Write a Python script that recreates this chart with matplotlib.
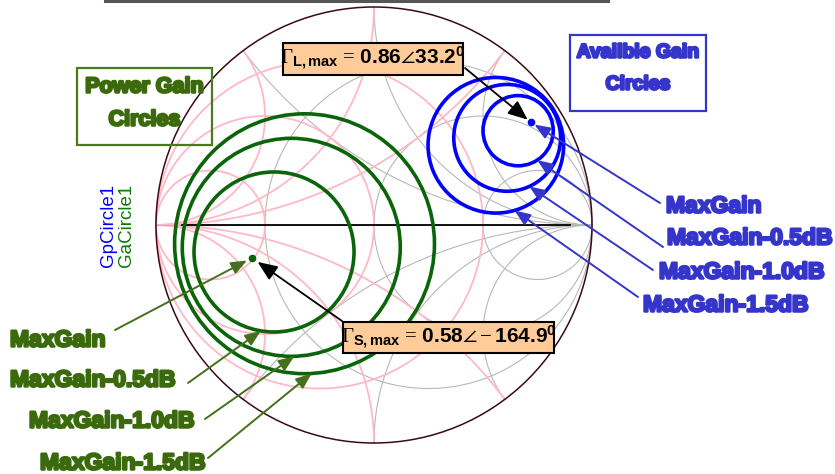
import numpy as np
import matplotlib
matplotlib.use('Agg')
import matplotlib.pyplot as plt
import matplotlib.patheffects as pe
from matplotlib.patches import Rectangle, Circle

plt.rcParams['mathtext.fontset'] = 'custom'
plt.rcParams['mathtext.rm'] = 'Liberation Serif'
plt.rcParams['mathtext.it'] = 'Liberation Serif:italic'
plt.rcParams['mathtext.bf'] = 'Liberation Sans:bold'
plt.rcParams['mathtext.fallback'] = 'stix'

# optimum reflection coefficients
gs_mag, gs_ang = 0.58, -164.9
gl_mag, gl_ang = 0.86, 33.2

gain_labels = ['MaxGain', 'MaxGain-0.5dB', 'MaxGain-1.0dB', 'MaxGain-1.5dB']

# power gain circles (source plane): center magnitude / angle, radius
gp_center_mag = [0.475, 0.393, 0.330]
gp_center_ang = [-164.9, -164.9, -164.9]
gp_radius = [0.367, 0.500, 0.596]

# available gain circles (load plane)
ga_center_mag = [0.790, 0.730, 0.668]
ga_center_ang = [33.2, 33.2, 33.2]
ga_radius = [0.161, 0.245, 0.311]

# smith chart grid values
grid_r = [1 / 3, 1.0, 3.0]
grid_x = [0.5, 1.0, 2.0]

W, H = 835, 474
CX, CY, R = 374, 225, 218


def P(x, y):
    # pixel position -> reflection plane
    return (x - CX) / R, (CY - y) / R


def polar(mag, ang):
    a = np.deg2rad(ang)
    return mag * np.cos(a), mag * np.sin(a)


def gamma(z):
    return (z - 1) / (z + 1)


fig = plt.figure(figsize=(W / 100, H / 100), dpi=100)
ax = fig.add_axes([0, 0, 1, 1])
x0, y1 = P(0, 0)
x1, y0 = P(W, H)
ax.set_xlim(x0, x1)
ax.set_ylim(y0, y1)
ax.set_axis_off()

# --- smith chart grid: impedance (gray) and admittance (pink) ---
t = np.linspace(-np.pi / 2 + 1e-4, np.pi / 2 - 1e-4, 2000)
s = np.tan(np.linspace(0, np.pi / 2 - 1e-4, 2000))
for sign, col, lw in [(1, '#b8b8b8', 0.8), (-1, '#ffb8c6', 1.3)]:
    for r in grid_r:
        g = gamma(r + 1j * np.tan(t)) * sign
        ax.plot(g.real, g.imag, color=col, lw=lw, zorder=1)
    for xv in grid_x:
        for sx in (1, -1):
            g = gamma(s + 1j * sx * xv) * sign
            ax.plot(g.real, g.imag, color=col, lw=lw, zorder=1)

ax.plot([-1, 1], [0, 0], color='#b8b8b8', lw=0.8, zorder=1)
ax.plot([-0.88, 0.90], [0, 0], color='black', lw=1.3, zorder=2)
ax.add_patch(Circle((0, 0), 1, fill=False, ec='#3a0a14', lw=1.1, zorder=3))

# line along the top edge
ax.plot([P(105, 0)[0], P(608, 0)[0]], [P(0, 1)[1]] * 2, color='#555555', lw=2.2,
        zorder=3, clip_on=False)

# --- gain circles ---
green, green_txt = '#0a640a', '#3a6a0c'
blue, blue_txt = '#0000ff', '#3535cc'

gp_c = [polar(m, a) for m, a in zip(gp_center_mag, gp_center_ang)]
ga_c = [polar(m, a) for m, a in zip(ga_center_mag, ga_center_ang)]
for c, r in zip(gp_c, gp_radius):
    ax.add_patch(Circle(c, r, fill=False, ec=green, lw=2.6, zorder=4))
for c, r in zip(ga_c, ga_radius):
    ax.add_patch(Circle(c, r, fill=False, ec=blue, lw=2.6, zorder=4))

gs = polar(gs_mag, gs_ang)
gl = polar(gl_mag, gl_ang)
ax.plot(*gs, 'o', color=green, ms=4.5, zorder=5)
ax.plot(*gl, 'o', color=blue, ms=4.5, zorder=5)

heavy = dict(fontsize=16.5, fontweight='bold', family='Liberation Sans', va='center')


def label(x, y, text, color, **kw):
    opts = dict(heavy)
    opts.update(kw)
    ax.text(*P(x, y), text, color=color,
            path_effects=[pe.withStroke(linewidth=1.8, foreground=color)], **opts)


def arrow(tip, tail, color, shrink=0, hl=0.95, hw=0.38, lw=1.4):
    ax.annotate('', xy=tip, xytext=P(*tail),
                arrowprops=dict(arrowstyle=f'-|>,head_length={hl},head_width={hw}',
                                color=color, lw=lw, shrinkA=0, shrinkB=shrink,
                                mutation_scale=10), zorder=6)


def on_circle(c, r, ang):
    a = np.deg2rad(ang)
    return c[0] + r * np.cos(a), c[1] + r * np.sin(a)


# power gain labels and arrows
gp_lab_xy = [(10, 340), (10, 380), (29, 421), (40, 463)]
gp_tail = [(115, 330), (188, 383), (205, 419), (208, 458)]
gp_tip_ang = [-99.5, -88.4, -86.9]
for (lx, ly), text in zip(gp_lab_xy, gain_labels):
    label(lx, ly, text, green_txt)
arrow(gs, gp_tail[0], '#45701a', shrink=4)
for c, r, a, tail in zip(gp_c, gp_radius, gp_tip_ang, gp_tail[1:]):
    arrow(on_circle(c, r, a), tail, '#45701a')

# available gain labels and arrows
ga_lab_xy = [(666, 206), (667, 238), (659, 272), (643, 305)]
ga_tail = [(660, 203), (663, 247), (653, 270), (638, 297)]
ga_tip_ang = [-57, -65.5, -74]
for (lx, ly), text in zip(ga_lab_xy, gain_labels):
    label(lx, ly, text, blue_txt)
arrow(gl, ga_tail[0], blue_txt, shrink=3)
for c, r, a, tail in zip(ga_c, ga_radius, ga_tip_ang, ga_tail[1:]):
    arrow(on_circle(c, r, a), tail, blue_txt)


# title boxes
def box(x0p, y0p, x1p, y1p, color, fc='none', lw=1.6):
    bx, by = P(x0p, y1p)
    ax.add_patch(Rectangle((bx, by), (x1p - x0p) / R, (y1p - y0p) / R,
                           fc=fc, ec=color, lw=lw, zorder=7))


box(77, 68, 212, 145, '#4a7a1a')
label(144.5, 87, 'Power Gain', green_txt, ha='center', fontsize=15.5, zorder=8)
label(144.5, 120, 'Circles', green_txt, ha='center', fontsize=15.5, zorder=8)

box(570, 35, 706, 111, '#3535cc')
label(638, 53, 'Availble Gain', blue_txt, ha='center', fontsize=14, zorder=8)
label(638, 85, 'Circles', blue_txt, ha='center', fontsize=14, zorder=8)

# optimum value call-outs
arrow(gl, (465, 68), 'black', shrink=3, hl=1.2, hw=0.5, lw=1.3)
arrow(gs, (342, 321), 'black', shrink=5, hl=1.2, hw=0.5, lw=1.3)

box(283, 43, 463, 75, 'black', fc='#ffcc99', lw=1.5)
ax.text(*P(373, 58), r'$\Gamma_{\mathbf{L,max}}\,=\,\mathbf{0.86}\angle\mathbf{33.2}^{\mathbf{0}}$',
        fontsize=15, ha='center', va='center', zorder=8)
box(343, 322, 554, 353, 'black', fc='#ffcc99', lw=1.5)
ax.text(*P(448.5, 337), r'$\Gamma_{\mathbf{S,max}}\,=\,\mathbf{0.58}\angle-\mathbf{164.9}^{\mathbf{0}}$',
        fontsize=15, ha='center', va='center', zorder=8)

# trace names
ax.text(*P(108, 225), 'GpCircle1', color='#0000ff', rotation=90, fontsize=13.5,
        family='Liberation Sans', ha='center', va='center')
ax.text(*P(127, 225), 'GaCircle1', color='#0a7a0a', rotation=90, fontsize=13.5,
        family='Liberation Sans', ha='center', va='center')

fig.savefig('out.png', dpi=100)
